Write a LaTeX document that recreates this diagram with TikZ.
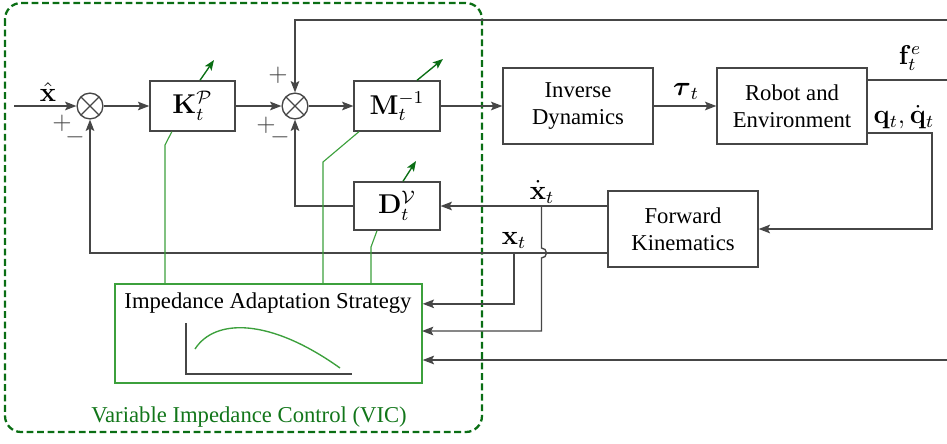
\documentclass[tikz,border=0pt]{standalone}
\usepackage[no-math]{fontspec}
\setmainfont{Liberation Serif}
\usepackage{amsmath}
\usetikzlibrary{arrows.meta,positioning}
\definecolor{vicgreen}{RGB}{10,110,20}
\definecolor{adaptgreen}{RGB}{60,160,60}
\definecolor{linegray}{RGB}{70,70,70}
\tikzset{
	sig/.style = {draw = linegray, line width = 0.6pt, >={Stealth[length = 5pt, width = 3.8pt, inset = 1pt]}},
	blk/.style = {draw = linegray, line width = 0.6pt, fill = white, align = center, inner sep = 0pt, font = \normalsize},
	mathblk/.style = {blk, font = \fontsize{11.5}{14}\selectfont},
	sumnode/.style = {draw = linegray, line width = 0.6pt, circle, minimum size = 0.4cm, inner sep = 0pt,
		path picture = {\draw [linegray, line width = 0.5pt] (path picture bounding box.north west) -- (path picture bounding box.south east) (path picture bounding box.north east) -- (path picture bounding box.south west);}},
	lab/.style = {font = \fontsize{11.5}{14}\selectfont, inner sep = 1pt},
	sign/.style = {font = \fontsize{11}{13}\selectfont, text = linegray, inner sep = 0pt},
	adapt/.style = {draw = adaptgreen, line width = 0.5pt},
	gain/.style = {draw = vicgreen, line width = 0.6pt, -{Stealth[length = 4.5pt, width = 3.5pt, inset = 1pt]}},
}
\begin{document}
\begin{tikzpicture}[x = 0.0155cm, y = -0.0155cm]
	\useasboundingbox (0,0) rectangle (947,443);
	\draw [vicgreen, line width = 1pt, dash pattern = on 3pt off 1.6pt, rounded corners = 0.25cm] (5,3) rectangle (482,432);
	\node [text = vicgreen!85!adaptgreen] (viclab) at (249,417) {Variable Impedance Control (VIC)};
	\node [sumnode] (s1) at (90,106) {};
	\node [sumnode] (s2) at (295,106) {};
	\node [mathblk, minimum width = 1.32cm, minimum height = 0.775cm] (K) at (192.5,106) {$\mathbf{K}_t^{\mathcal{P}}$};
	\node [mathblk, minimum width = 1.33cm, minimum height = 0.775cm] (M) at (397,106) {$\mathbf{M}_t^{-1}$};
	\node [mathblk, minimum width = 1.33cm, minimum height = 0.745cm] (D) at (397,206) {$\mathbf{D}_t^{\mathcal{V}}$};
	\node [blk, minimum width = 2.325cm, minimum height = 1.18cm] (ID) at (578,106) {Inverse\\Dynamics};
	\node [blk, minimum width = 2.325cm, minimum height = 1.18cm] (R) at (792,106) {Robot and\\Environment};
	\node [blk, minimum width = 2.325cm, minimum height = 1.18cm] (FK) at (683,229) {Forward\\Kinematics};
	\node [draw = adaptgreen, line width = 0.6pt, minimum width = 4.76cm, minimum height = 1.535cm] (ias) at (268.5,333.5) {};
	\node (iaslab) at (268,303) {Impedance Adaptation Strategy};
	\draw [linegray, line width = 0.6pt] (186,323) -- (186,374) -- (352,374);
	\draw [adapt, line width = 0.6pt] (195,349) .. controls (215,318) and (270,318) .. (340,368);
	\coordinate (xin) at (14,106);
	\coordinate (fbin) at (947,20);
	\coordinate (fout) at (947,80);
	\coordinate (qc) at (932,133);
	\coordinate (xd) at (541.5,206);
	\coordinate (xt) at (514,253);
	\coordinate (hop) at (541.5,248);
	\coordinate (xdin) at (422,331);
	\coordinate (sin) at (947,360);
	\draw [sig, ->] (xin) -- (s1);
	\draw [sig, ->] (s1) -- (K);
	\draw [sig, ->] (K) -- (s2);
	\draw [sig, ->] (s2) -- (M);
	\draw [sig, ->] (M) -- (ID);
	\draw [sig, ->] (ID) -- (R);
	\draw [sig, ->] (fbin) -| (s2);
	\draw [sig] (R.east |- fout) -- (fout);
	\draw [sig, ->] (R.east |- qc) -- (qc) |- (FK);
	\draw [sig, ->] (FK.west |- xd) -- (D);
	\draw [sig, ->] (D) -| (s2);
	\draw [sig, ->] (FK.west |- xt) -- (s1 |- xt) -- (s1);
	\draw [sig, ->] (xt) |- ([yshift = 0.46cm]ias.east);
	\draw [sig, ->] (xd) -- (hop) arc [start angle = 90, end angle = -90, radius = 0.0775cm] |- (xdin);
	\draw [sig, ->] (sin) -- (ias.east |- sin);
	\node [lab] (xhatlab) at (48,92) {$\hat{\mathbf{x}}$};
	\node [lab] (taulab) at (686,91) {$\boldsymbol{\tau}_t$};
	\node [lab] (flab) at (910,58) {$\mathbf{f}_t^e$};
	\node [lab, anchor = west] (qlab) at (871,117) {$\mathbf{q}_t, \dot{\mathbf{q}}_t$};
	\node [lab] (xdlab) at (542,192) {$\dot{\mathbf{x}}_t$};
	\node [lab] (xtlab) at (514,240) {$\mathbf{x}_t$};
	\foreach \sx/\sy/\sg in {62/123/+, 75/137/-, 278/75/+, 266/125/+, 280/137/-}{
	\node [sign] (sign\sx) at (\sx,\sy) {$\sg$};
	}
	\draw [adapt] ([xshift = -0.32cm]K.south) -- (165,145) -- (165,284);
	\draw [adapt] ([xshift = -0.59cm]M.south) -- (323,162) -- (323,284);
	\draw [adapt] ([xshift = -0.31cm]D.south) -- (371,247) -- (371,284);
	\foreach \blk/\sx/\ex/\ey in {K/0.116/214/60, M/0.31/443/59, D/0.093/416/161}{
	\draw [gain] ([xshift = \sx cm]\blk.north) -- (\ex,\ey);
	}
\end{tikzpicture}
\end{document}
